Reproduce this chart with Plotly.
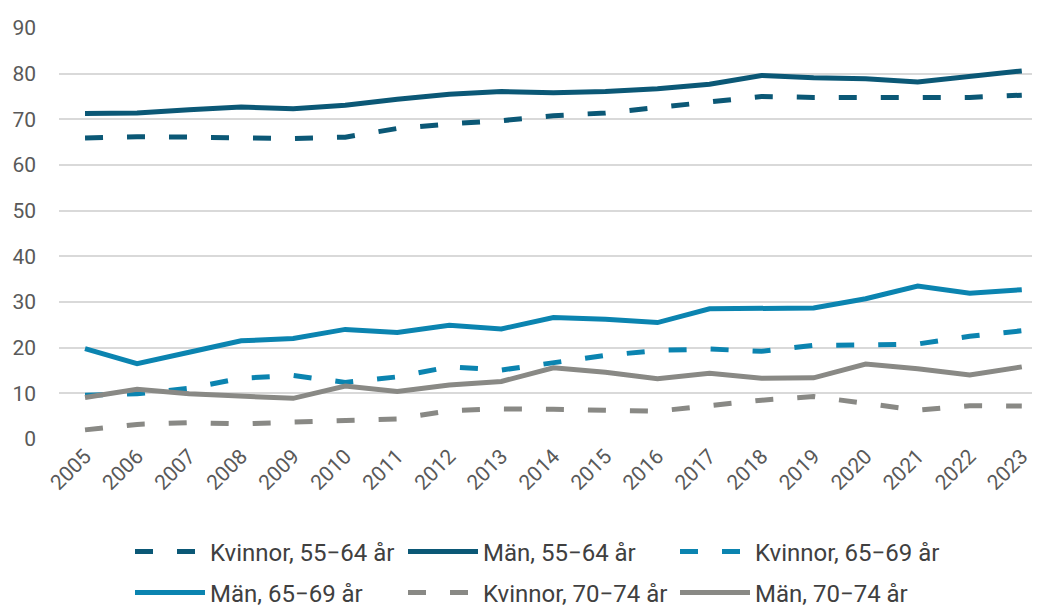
import plotly.graph_objects as go

years = list(range(2005, 2024))
kv_55_64 = [65.9, 66.2, 66.1, 65.9, 65.8, 66.1, 68.0, 69.0, 69.7, 70.8, 71.4, 72.6, 73.7, 75.0, 74.8, 74.7, 74.8, 74.8, 75.3]
man_55_64 = [71.3, 71.4, 72.1, 72.7, 72.3, 73.1, 74.4, 75.5, 76.1, 75.8, 76.1, 76.7, 77.7, 79.6, 79.1, 78.9, 78.2, 79.3, 80.6]
kv_65_69 = [9.6, 9.9, 11.1, 13.3, 13.9, 12.4, 13.6, 15.8, 15.1, 16.8, 18.3, 19.4, 19.7, 19.2, 20.5, 20.6, 20.8, 22.5, 23.7]
man_65_69 = [19.8, 16.5, 19.0, 21.5, 22.0, 24.0, 23.3, 24.9, 24.1, 26.6, 26.2, 25.5, 28.5, 28.5, 28.7, 30.7, 33.5, 31.9, 32.7]
kv_70_74 = [2.0, 3.2, 3.6, 3.3, 3.7, 4.1, 4.4, 6.2, 6.6, 6.5, 6.2, 6.1, 7.3, 8.5, 9.3, 7.8, 6.3, 7.3, 7.2]
man_70_74 = [9.1, 10.9, 9.9, 9.4, 8.9, 11.6, 10.4, 11.8, 12.6, 15.6, 14.6, 13.2, 14.4, 13.3, 13.4, 16.4, 15.4, 14.0, 15.8]

names = ["Kvinnor, 55\u221264 år", "Män, 55\u221264 år", "Kvinnor, 65\u221269 år",
         "Män, 65\u221269 år", "Kvinnor, 70\u221274 år", "Män, 70\u221274 år"]
series = [kv_55_64, man_55_64, kv_65_69, man_65_69, kv_70_74, man_70_74]
colors = ["#0b5876", "#0b5876", "#0b84b0", "#0b84b0", "#898985", "#898985"]
dashes = ["18px,24px", "solid", "18px,24px", "solid", "18px,24px", "solid"]

# page body has an 8px margin: plot area should land at screen x 59..1040, y 28..439
W, H = 1040, 640
L, T, R = 51, 20, 8
plot_bottom = 431
B = H - plot_bottom
plot_h = plot_bottom - T
plot_w = W - L - R

leg_ids = ["legend", "legend2", "legend3", "legend4", "legend5", "legend6"]
col_x = [122, 395, 667]          # figure px where each legend column starts
row_y = [544, 585]               # figure px of each legend row centre

fig = go.Figure()
for i, (n, s, c, d) in enumerate(zip(names, series, colors, dashes)):
    fig.add_trace(go.Scatter(x=years, y=s, name=n, mode="lines", legend=leg_ids[i],
                             line=dict(color=c, width=5, dash=d)))

legends = {}
for i, lid in enumerate(leg_ids):
    legends[lid] = dict(
        orientation="h", xanchor="left", yanchor="middle",
        x=(col_x[i % 3] - L) / plot_w, y=(plot_bottom - row_y[i // 3]) / plot_h,
        itemwidth=70, font=dict(family="Roboto", size=24, color="#404040"),
        bgcolor="rgba(0,0,0,0)")

fig.update_layout(
    width=W, height=H,
    margin=dict(l=L, r=R, t=T, b=B),
    plot_bgcolor="white", paper_bgcolor="white",
    font=dict(family="Roboto", color="#595959", size=21),
    xaxis=dict(range=[2004.5, 2023.35], tickmode="array", tickvals=years,
               ticktext=[str(y) for y in years], tickangle=-45, automargin=False,
               showgrid=False, zeroline=False, showline=False,
               tickfont=dict(size=21, color="#595959")),
    yaxis=dict(range=[0, 90], dtick=10, showgrid=True, gridcolor="#d9d9d9",
               gridwidth=1.5, zeroline=False, ticks="", ticklabelstandoff=22,
               automargin=False, tickfont=dict(size=21, color="#595959")),
    showlegend=True,
    **legends,
)

fig.write_html("out.html")
